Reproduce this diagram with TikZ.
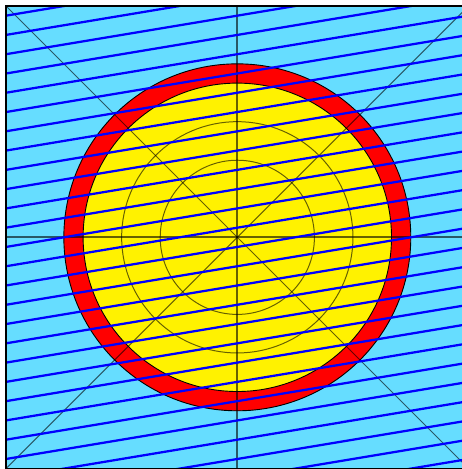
\documentclass[tikz,border=0pt]{standalone}
\usepackage{tikz}

\definecolor{skyfill}{RGB}{102,221,255}

\begin{document}
\begin{tikzpicture}[
        x=1.5cm, y=1.5cm,
        ring/.style={draw=black, line width=0.5pt},
        guide/.style={draw=black, draw opacity=0.6, line width=0.55pt},
        axis/.style={draw=black, draw opacity=0.6, line width=1.1pt},
        hatch/.style={draw=blue, line width=1.25pt}
    ]
    \useasboundingbox (-3.078,-3.005) rectangle (2.91,3.078);

    % background square
    \fill[skyfill] (-3,-3) rectangle (3,3);

    % discs
    \filldraw[fill=red, ring] (0,0) circle (2.25);
    \filldraw[fill=yellow, ring] (0,0) circle (2);

    % helper circles
    \draw[guide] (0,0) circle (1);
    \draw[guide] (0,0) circle (1.5);

    % axes and diagonals
    \draw[axis] (-3,0) -- (3,0);
    \draw[axis] (0,-3) -- (0,3);
    \draw[guide] (-3,-3) -- (3,3);
    \draw[guide] (-3,3) -- (3,-3);

    % slanted lines
    \begin{scope}
        \clip (-3,-3) rectangle (3,3);
        \foreach \k in {-14,...,13}
            \draw[hatch] (-3,{0.125+0.25*\k-0.5}) -- (3,{0.125+0.25*\k+0.5});
    \end{scope}

    % frame
    \draw[line width=1.1pt] (-3,-3) rectangle (3,3);

\end{tikzpicture}
\end{document}
